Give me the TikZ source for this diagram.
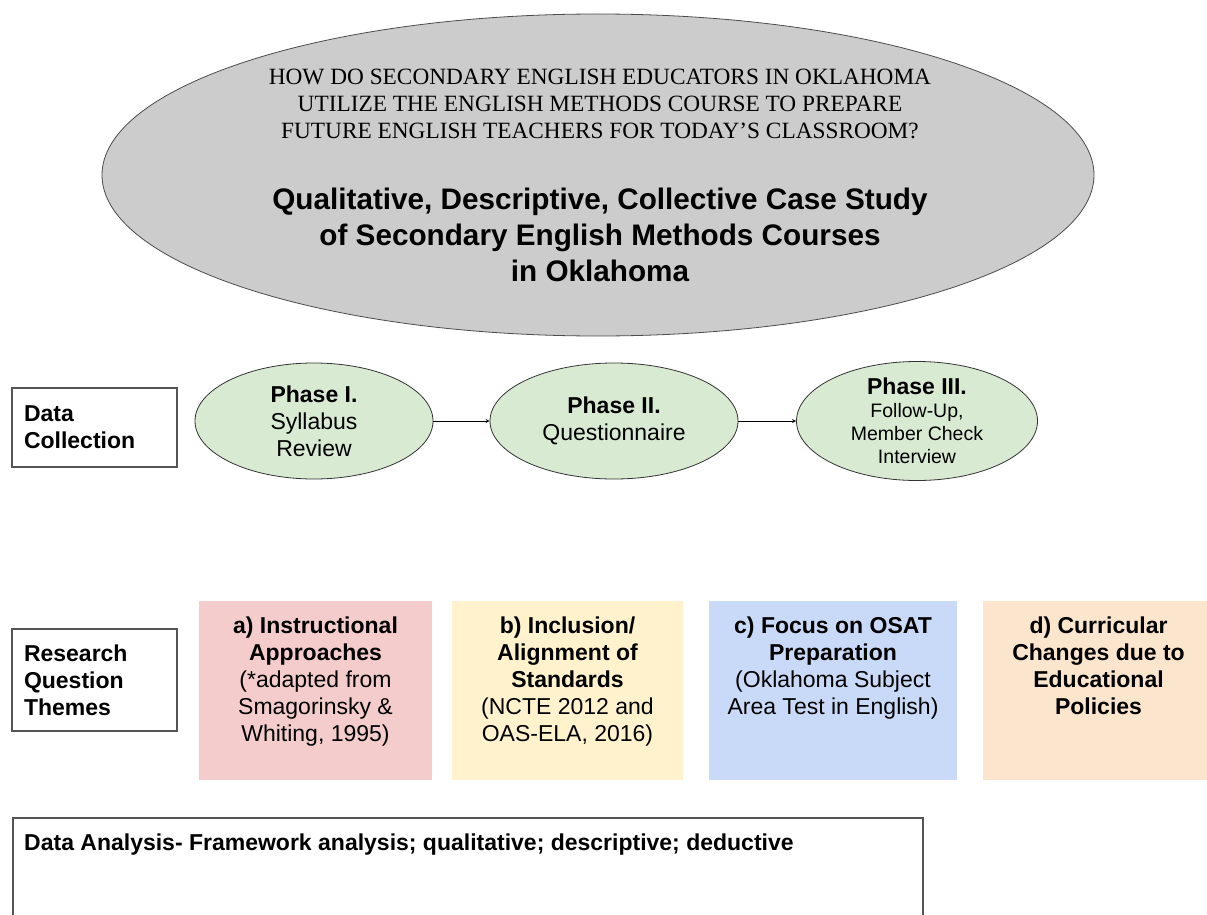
\documentclass[tikz,border=0pt]{standalone}
\usepackage{fontspec}
\setmainfont{Liberation Sans}
\newfontfamily\serifq{Liberation Serif}
\usetikzlibrary{shapes.geometric, positioning}
\definecolor{ovalgray}{HTML}{CCCCCC}
\definecolor{phasegreen}{HTML}{D9EAD3}
\definecolor{themepink}{HTML}{F4CCCC}
\definecolor{themeyellow}{HTML}{FFF2CC}
\definecolor{themeblue}{HTML}{C9DAF8}
\definecolor{themeorange}{HTML}{FCE5CD}
\definecolor{boxline}{HTML}{555555}
\newcommand{\txtsize}{\fontsize{23}{27}\selectfont}
\newcommand{\smallsize}{\fontsize{19.5}{23}\selectfont}

\begin{document}
\begin{tikzpicture}[x=1pt,y=-1pt]
			\tikzstyle{oval} = [ellipse,fill=ovalgray,draw=black!70,line width=0.8pt,inner sep=0pt]
			\tikzstyle{phase} = [ellipse,fill=phasegreen,draw=black!80,line width=0.8pt,inner sep=0pt,align=center,font=\txtsize]
			\tikzstyle{tagbox} = [rectangle,draw=boxline,line width=1.5pt,text width=141pt,inner xsep=12pt,align=left,font=\txtsize\bfseries]
			\tikzstyle{theme} = [rectangle,inner sep=0pt,minimum height=179pt]
			\tikzstyle{themetext} = [inner sep=0pt,align=center,font=\txtsize]
			\tikzstyle{edge} = [->,>=stealth,line width=0.8pt]
			\useasboundingbox (0,0) rectangle (1207,915);
			% question oval
			\node[oval,minimum width=992pt,minimum height=322pt] (q) at (598,175) {};
			\node[align=center,inner sep=0pt,font=\serifq\fontsize{23.3}{27}\selectfont] (qtext) at (600,104)
				{HOW DO SECONDARY ENGLISH EDUCATORS IN OKLAHOMA\\ UTILIZE THE ENGLISH METHODS COURSE TO PREPARE\\ FUTURE ENGLISH TEACHERS FOR TODAY’S CLASSROOM?};
			\node[align=center,inner sep=0pt,font=\fontsize{29.7}{36}\selectfont\bfseries] (qtitle) at (600,235)
				{Qualitative, Descriptive, Collective Case Study\\ of Secondary English Methods Courses\\ in Oklahoma};
			% data collection
			\node[tagbox,minimum height=79pt] (dc) at (94.5,427.5) {Data\\ Collection};
			\node[phase,minimum width=238pt,minimum height=116pt] (p1) at (314,421) {\textbf{Phase I.}\\ Syllabus\\ Review};
			\node[phase,minimum width=248pt,minimum height=116pt] (p2) at (614,421) {\textbf{Phase II.}\\ Questionnaire};
			\node[phase,minimum width=241pt,minimum height=119pt] (p3) at (917,421) {};
			\node[align=center,inner sep=0pt,font=\smallsize] (p3-text) at (917,421)
				{\txtsize\bfseries Phase III.\\ Follow-Up,\\ Member Check\\ Interview};
			\draw[edge] (p1)--(p2);
			\draw[edge] (p2)--(p3);
			% research question themes
			\node[tagbox,minimum height=102pt] (rqt) at (94.5,680) {Research\\ Question\\ Themes};
			\node[theme,fill=themepink,minimum width=233pt] (ta) at (315.5,690.5) {};
			\node[theme,fill=themeyellow,minimum width=231pt] (tb) at (567.5,690.5) {};
			\node[theme,fill=themeblue,minimum width=248pt] (tc) at (833,690.5) {};
			\node[theme,fill=themeorange,minimum width=231pt] (td) at (1098.5,690.5) {};
			\node[themetext,below=16pt of ta.north] (ta-text) {\textbf{a) Instructional}\\ \textbf{Approaches}\\ (*adapted from\\ Smagorinsky \&\\ Whiting, 1995)};
			\node[themetext,below=16pt of tb.north] (tb-text) {\textbf{b) Inclusion/}\\ \textbf{Alignment of}\\ \textbf{Standards}\\ (NCTE 2012 and\\ OAS-ELA, 2016)};
			\node[themetext,below=16pt of tc.north] (tc-text) {\textbf{c) Focus on OSAT}\\ \textbf{Preparation}\\ (Oklahoma Subject\\ Area Test in English)};
			\node[themetext,below=16pt of td.north] (td-text) {\textbf{d) Curricular}\\ \textbf{Changes due to}\\ \textbf{Educational}\\ \textbf{Policies}};
			% data analysis
			\node[rectangle,draw=boxline,line width=1.5pt,anchor=north west,minimum width=910pt,minimum height=150pt] (da) at (12,817) {};
			\node[inner sep=0pt,font=\txtsize\bfseries,below right=17pt and 12pt of da.north west] (da-text) {Data Analysis- Framework analysis; qualitative; descriptive; deductive};
\end{tikzpicture}
\end{document}
